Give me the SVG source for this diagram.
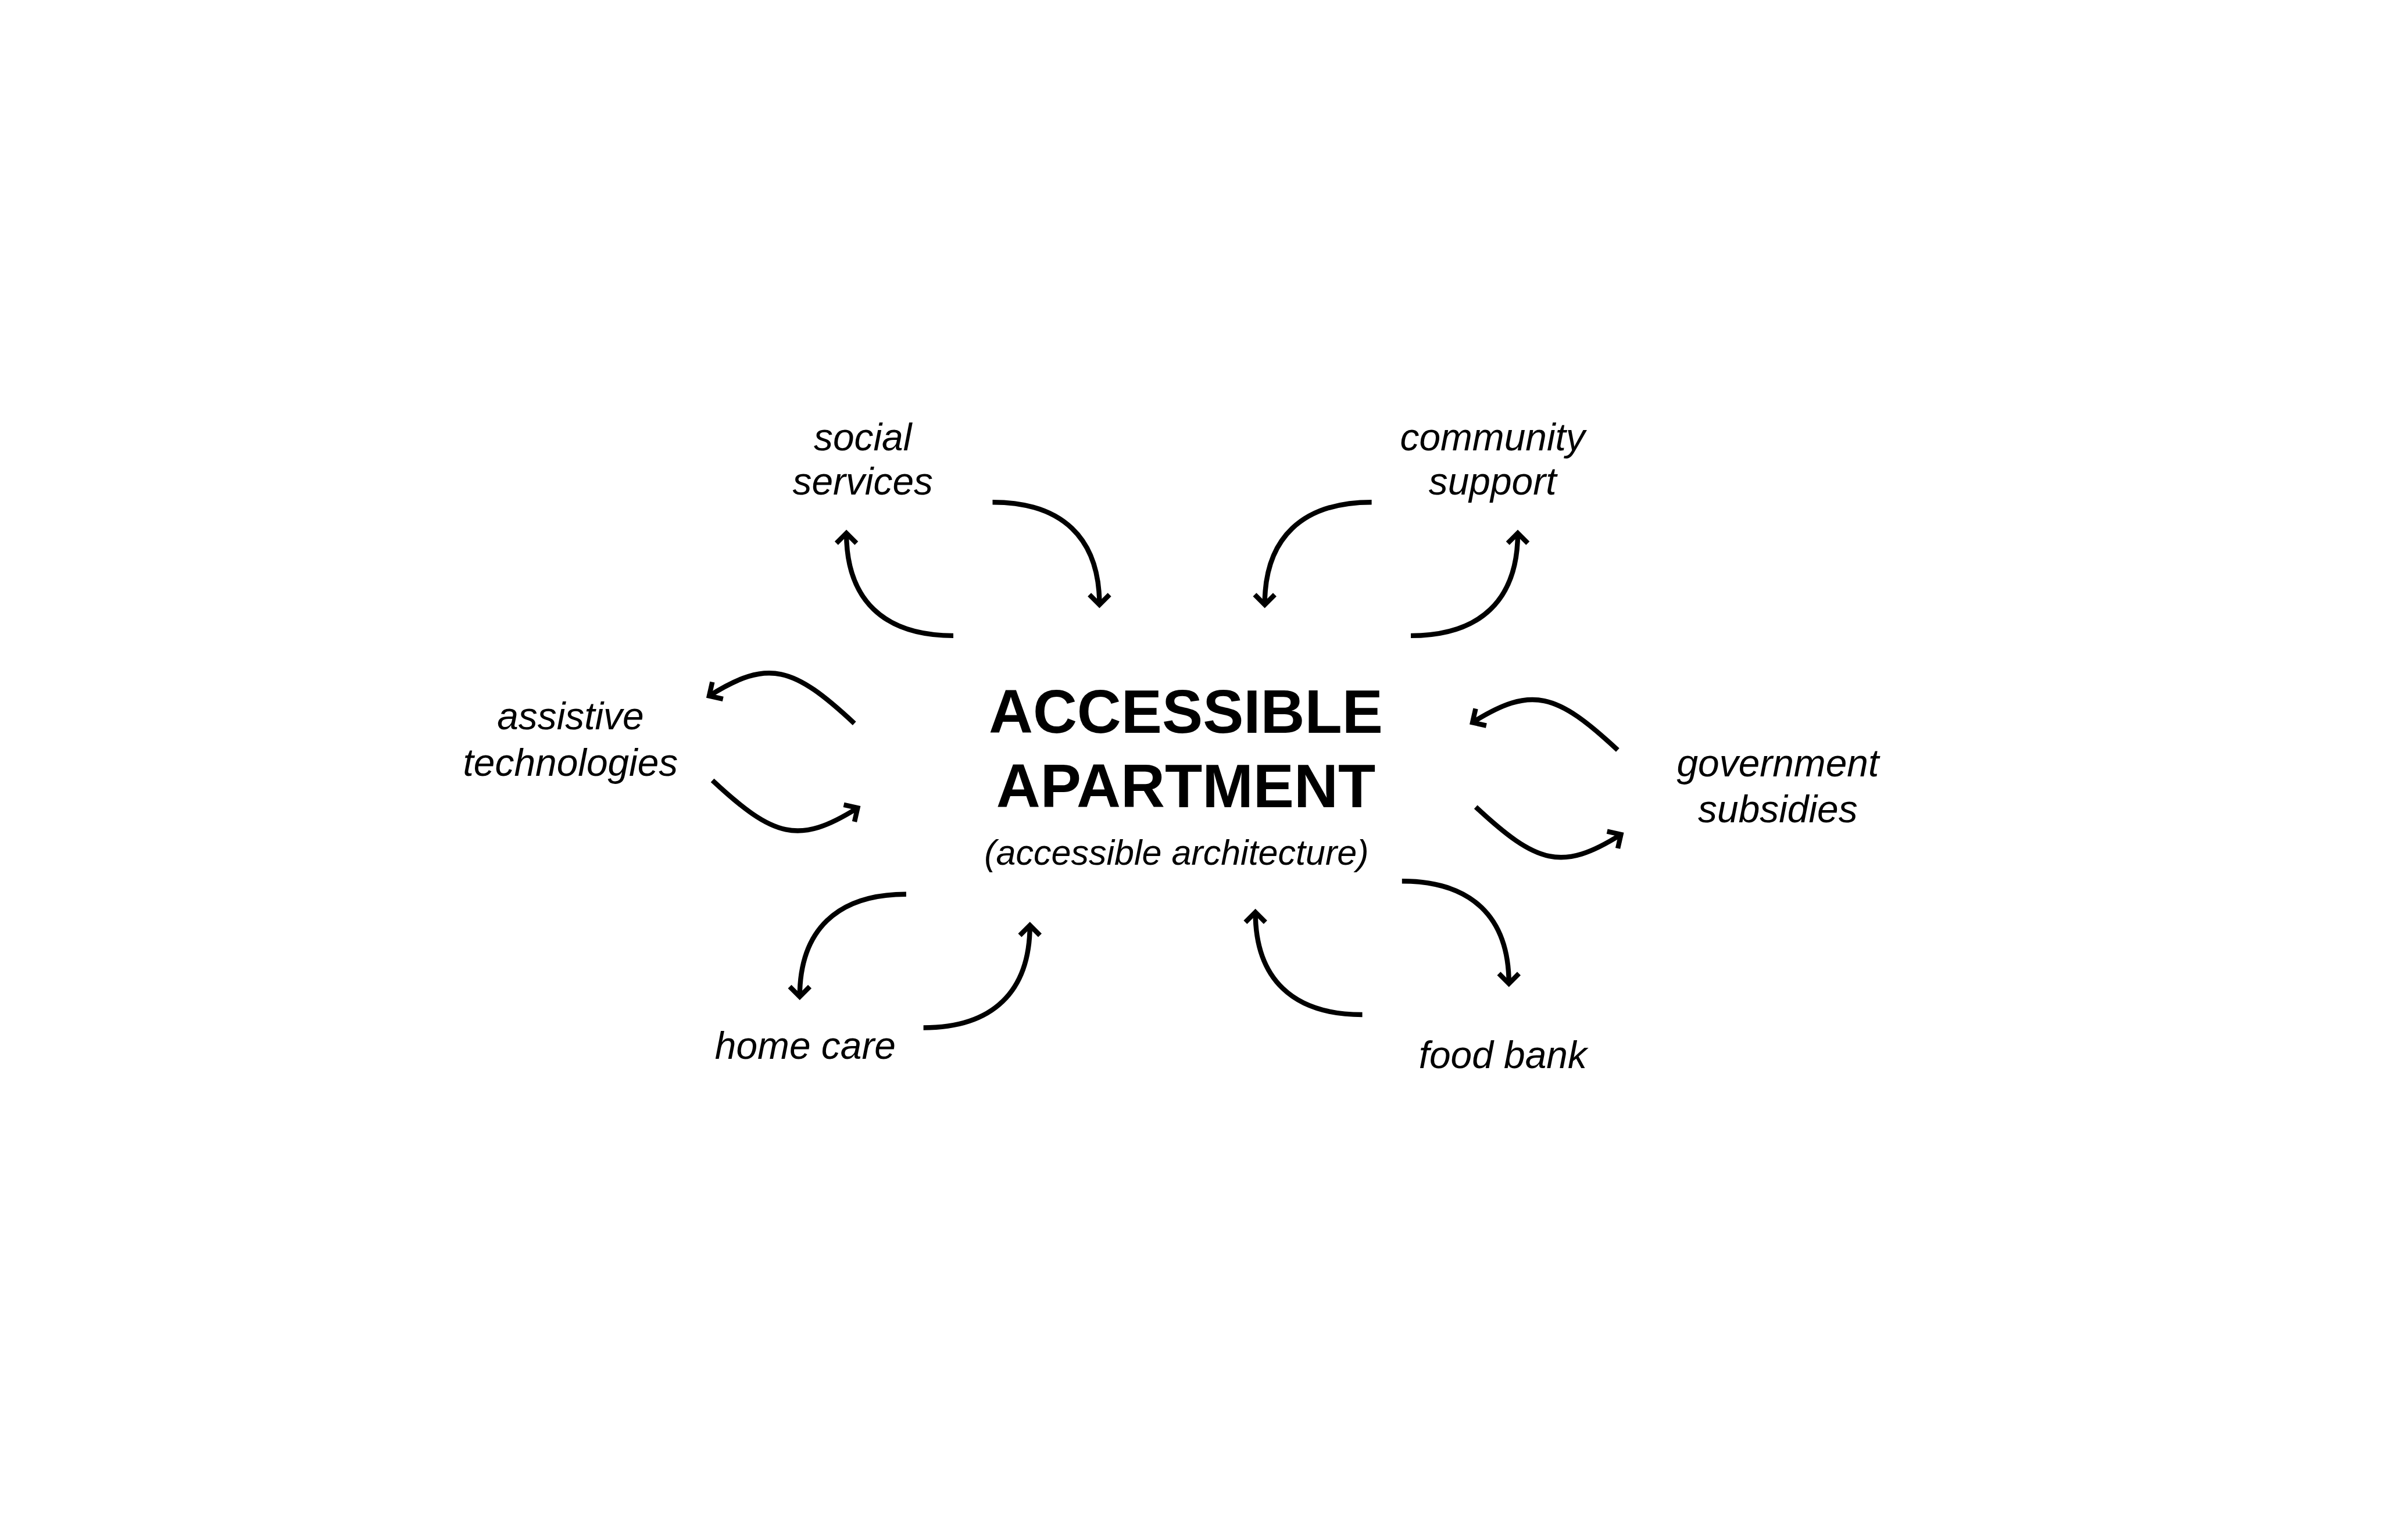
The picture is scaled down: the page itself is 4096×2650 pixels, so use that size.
<svg xmlns="http://www.w3.org/2000/svg" width="4096" height="2650" viewBox="0 0 4096 2650">
<style>
.lbl{font-family:"Liberation Sans",Arial,Helvetica,sans-serif;font-style:italic;font-size:82px;fill:#000;text-anchor:middle}
.ttl{font-family:"Liberation Sans",Arial,Helvetica,sans-serif;font-weight:bold;font-size:131px;fill:#000;text-anchor:middle}
.sub{font-family:"Liberation Sans",Arial,Helvetica,sans-serif;font-style:italic;font-size:76px;fill:#000;text-anchor:middle}
.arr{fill:none;stroke:#000;stroke-width:10.5;stroke-linecap:butt;marker-end:url(#head)}
</style>
<defs>
<marker id="head" markerUnits="userSpaceOnUse" viewBox="-40 -40 80 80" markerWidth="80" markerHeight="80" refX="0" refY="0" orient="auto" overflow="visible">
<path d="M -21.5 -21.5 L 0 0 L -21.5 21.5" fill="none" stroke="#000" stroke-width="10.5" stroke-linejoin="miter" stroke-linecap="butt"/>
</marker>
</defs>
<rect x="0" y="0" width="4096" height="2650" fill="#fff"/>
<g transform="scale(0.803137)">
<g id="connectors">
<path class="arr" d="M 2042 1362 C 1893 1362 1813 1285 1813 1142.5"/>
<path class="arr" d="M 2126 1076 C 2275 1076 2355 1153 2355 1295.5"/>
<path class="arr" d="M 2938 1076 C 2789 1076 2709 1153 2709 1295.5"/>
<path class="arr" d="M 3022 1362 C 3171 1362 3251 1285 3251 1142.5"/>
<path class="arr" d="M 1830 1550 C 1699 1428 1646 1411 1519 1491"/>
<path class="arr" d="M 1526 1672 C 1657 1794 1710 1811 1837 1731"/>
<path class="arr" d="M 3465 1607 C 3334 1485 3281 1468 3154 1548"/>
<path class="arr" d="M 3161 1729 C 3292 1851 3345 1868 3472 1788"/>
<path class="arr" d="M 1941 1916 C 1793 1916 1713 1993 1713 2135.5"/>
<path class="arr" d="M 1978 2202 C 2126 2202 2206 2125 2206 1982.5"/>
<path class="arr" d="M 2918 2174 C 2769 2174 2689 2097 2689 1954.5"/>
<path class="arr" d="M 3003 1888 C 3152 1888 3232 1965 3232 2107.5"/>
</g>
<g id="center">
<text class="ttl" x="2540" y="1570">ACCESSIBLE</text>
<text class="ttl" x="2540" y="1730">APARTMENT</text>
<text class="sub" x="2520" y="1853">(accessible architecture)</text>
</g>
<g id="social-services">
<text class="lbl" x="1848" y="965">social</text>
<text class="lbl" x="1848" y="1060">services</text>
</g>
<g id="community-support">
<text class="lbl" x="3197" y="965">community</text>
<text class="lbl" x="3197" y="1060">support</text>
</g>
<g id="assistive-technologies">
<text class="lbl" x="1222" y="1563">assistive</text>
<text class="lbl" x="1222" y="1662">technologies</text>
</g>
<g id="government-subsidies">
<text class="lbl" x="3808" y="1663">government</text>
<text class="lbl" x="3808" y="1762">subsidies</text>
</g>
<g id="home-care">
<text class="lbl" x="1725" y="2268">home care</text>
</g>
<g id="food-bank">
<text class="lbl" x="3219" y="2288">food bank</text>
</g>
</g>
</svg>
